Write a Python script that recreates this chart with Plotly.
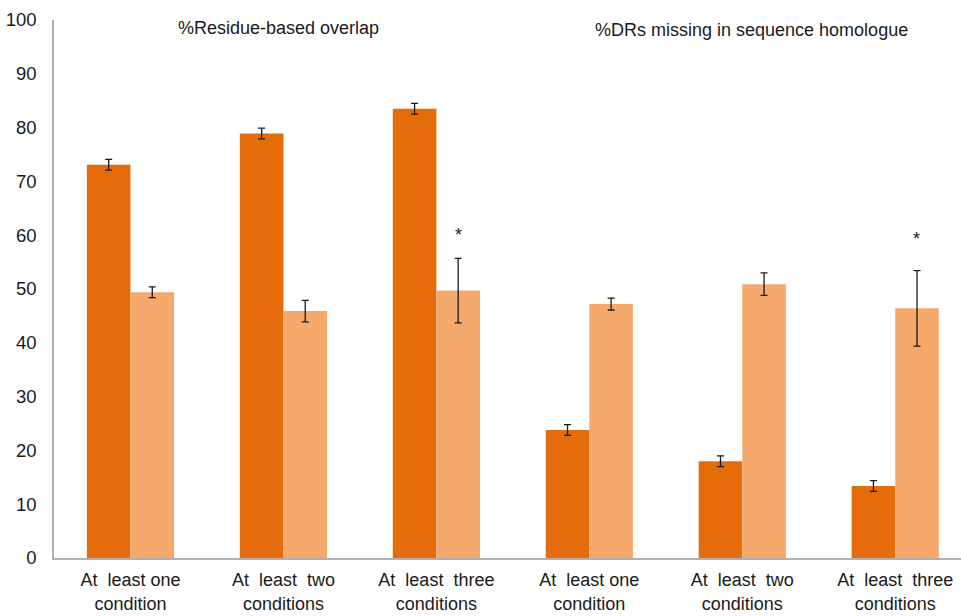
import plotly.graph_objects as go

NB = "\u00a0"
categories = [f"At{NB} least one<br>condition", f"At{NB} least{NB} two<br>conditions", f"At{NB} least{NB} three<br>conditions",
              f"At{NB} least one<br>condition", f"At{NB} least{NB} two<br>conditions", f"At{NB} least{NB} three<br>conditions"]
dark_values = [73.1, 78.9, 83.5, 23.8, 18.0, 13.4]
dark_errors = [1.0, 1.0, 1.0, 1.0, 1.0, 1.0]
light_values = [49.4, 45.9, 49.7, 47.2, 50.9, 46.4]
light_errors = [1.0, 2.0, 6.0, 1.1, 2.1, 7.0]
star_positions = [2, 5]
star_values = [60.0, 59.3]
titles = ["%Residue-based overlap", "%DRs missing in sequence homologue"]
title_positions = [1, 4]
y_ticks = [0, 10, 20, 30, 40, 50, 60, 70, 80, 90, 100]

xs = list(range(len(categories)))
font = "Liberation Sans, Arial, sans-serif"

fig = go.Figure()
fig.add_trace(go.Bar(
    x=xs, y=dark_values, marker=dict(color="#E46C0A", line=dict(width=0)),
    error_y=dict(type="data", array=dark_errors, color="#1a1a1a", thickness=1.3, width=3.5),
    showlegend=False))
fig.add_trace(go.Bar(
    x=xs, y=light_values, marker=dict(color="#F6A96C", line=dict(width=0)),
    error_y=dict(type="data", array=light_errors, color="#1a1a1a", thickness=1.3, width=3.5),
    showlegend=False))

for p, v in zip(star_positions, star_values):
    fig.add_annotation(x=p + 0.142, y=v, text="*", showarrow=False,
                       font=dict(family=font, size=18, color="#1a1a1a"))

fig.add_annotation(x=title_positions[0] - 0.03, y=98.6, text=titles[0], showarrow=False,
                   font=dict(family=font, size=18, color="#1a1a1a"))
fig.add_annotation(x=title_positions[1] + 0.06, y=98.2, text=titles[1], showarrow=False,
                   font=dict(family=font, size=18, color="#1a1a1a"))

fig.update_layout(
    width=961, height=616,
    margin=dict(l=54, r=0, t=20, b=58),
    paper_bgcolor="white", plot_bgcolor="white",
    barmode="group", bargap=0.43, bargroupgap=0,
    font=dict(family=font, size=18, color="#262626"),
)
fig.update_xaxes(
    range=[-0.5, 5.43], tickvals=xs, ticktext=categories, automargin=False,
    showline=True, linecolor="#B0B0B0", linewidth=1.5, showgrid=False, ticks="",
    ticklabelstandoff=5,
    tickfont=dict(family=font, size=18, color="#1a1a1a"), zeroline=False,
)
fig.update_yaxes(
    range=[0, 100], tickvals=y_ticks, showline=True, linecolor="#B0B0B0", linewidth=1.5,
    showgrid=False, ticks="", ticklabelstandoff=12, zeroline=False, automargin=False,
    tickfont=dict(family=font, size=18.5, color="#1a1a1a"),
)

fig.write_html("out.html", config={"displayModeBar": False},
               post_script="document.body.style.margin='0';")
